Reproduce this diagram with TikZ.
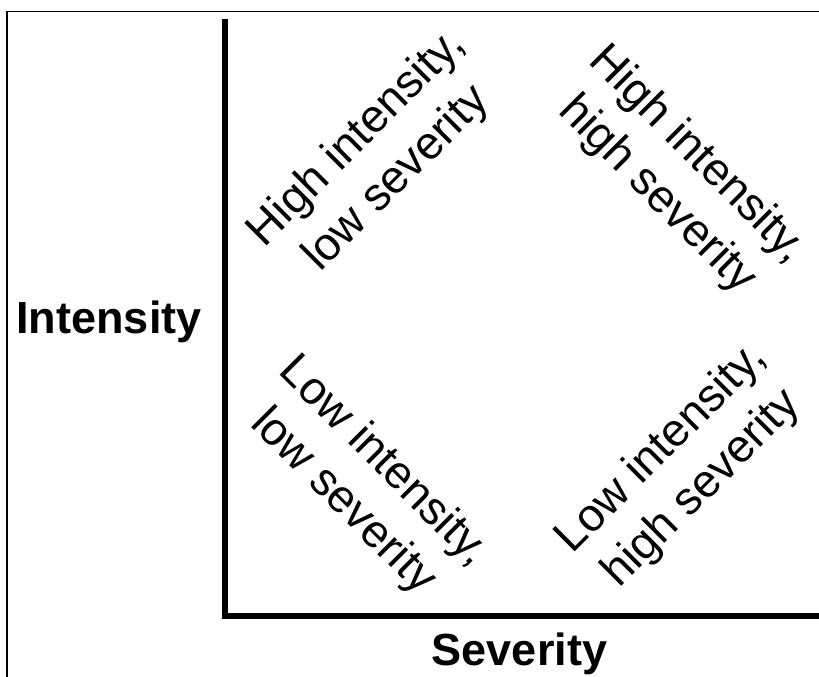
\documentclass[tikz,border=0pt]{standalone}
\usepackage{fontspec}
\setmainfont{Liberation Sans}
\begin{document}
\begin{tikzpicture}[x=1pt,y=-1pt,
  quad/.style={align=center, inner sep=0pt, font=\fontsize{46}{57}\selectfont},
  axislabel/.style={anchor=base, inner sep=0pt, font=\fontsize{45}{54}\selectfont\bfseries},
  axisline/.style={line width=6pt, line join=miter, line cap=butt},
  framestyle/.style={line width=1.8pt}]
\useasboundingbox (0,0) rectangle (819,677);
\coordinate (ftr) at (819,11.5);
\coordinate (ftl) at (7,11.5);
\coordinate (fbl) at (7,677);
\draw[framestyle] (ftr) -- (ftl) -- (fbl);
\coordinate (ytop) at (224.5,19);
\coordinate (origin) at (224.5,616);
\coordinate (xend) at (819,616);
\draw[axisline] (ytop) -- (origin) -- (xend);
\node[axislabel] (ylab) at (109,333) {Intensity};
\node[axislabel] (xlab) at (519.5,665) {Severity};
\node[quad, rotate=45] (ul) at (377,159) {High intensity,\\low severity};
\node[quad, rotate=-45] (ur) at (677,175) {High intensity,\\high severity};
\node[quad, rotate=-45] (ll) at (363,482) {Low intensity,\\low severity};
\node[quad, rotate=45] (lr) at (682,469) {Low intensity,\\high severity};
\end{tikzpicture}
\end{document}
